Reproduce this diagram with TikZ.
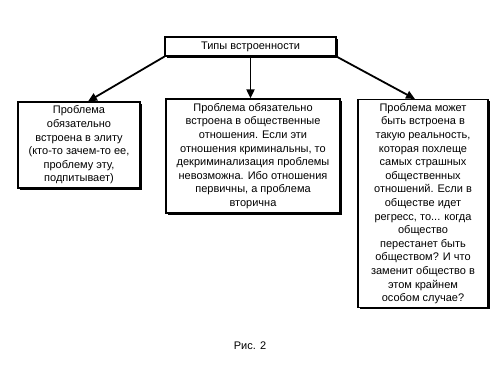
\documentclass[tikz,border=0pt]{standalone}
\usepackage{fontspec}
\setmainfont{Liberation Sans}
\usetikzlibrary{arrows.meta,shadows}
\begin{document}
\begin{tikzpicture}[x=1pt,y=-1pt,
  box/.style={draw=black,line width=1.2pt,fill=white,align=center,inner sep=2pt,
    font=\fontsize{11}{13.6}\selectfont,
    drop shadow={shadow xshift=1.6pt,shadow yshift=-1.6pt,opacity=1,fill=black}},
  conn/.style={line width=1.8pt,-{Triangle[length=9pt,width=8pt]}}]
\useasboundingbox (0,0) rectangle (500,375);
\node[box,minimum width=171pt,minimum height=19pt] (top) at (250.5,46.5) {Типы встроенности};
\node[box,minimum width=122pt,minimum height=86pt] (left) at (79,145)
  {Проблема\\обязательно\\встроена в элиту\\(кто-то зачем-то ее,\\проблему эту,\\подпитывает)};
\node[box,minimum width=174pt,minimum height=114pt] (mid) at (253,156)
  {Проблема обязательно\\встроена в общественные\\отношения. Если эти\\отношения криминальны, то\\декриминализация проблемы\\невозможна. Ибо отношения\\первичны, а проблема\\вторична};
\node[box,minimum width=130pt,minimum height=208pt,anchor=north] (right) at (423,99)
  {Проблема может\\быть встроена в\\такую реальность,\\которая похлеще\\самых страшных\\общественных\\отношений. Если в\\обществе идет\\регресс, то... когда\\общество\\перестанет быть\\обществом? И что\\заменит общество в\\этом крайнем\\особом случае?};
\node[font=\fontsize{11}{12}\selectfont] (cap) at (250,346) {Рис. 2};
\draw[conn] (top.south west) -- ([xshift=9pt]left.north);
\draw[conn] (top.south) -- (top.south |- mid.north);
\draw[conn] (top.south east) -- ([xshift=-8pt]right.north);
\end{tikzpicture}
\end{document}
